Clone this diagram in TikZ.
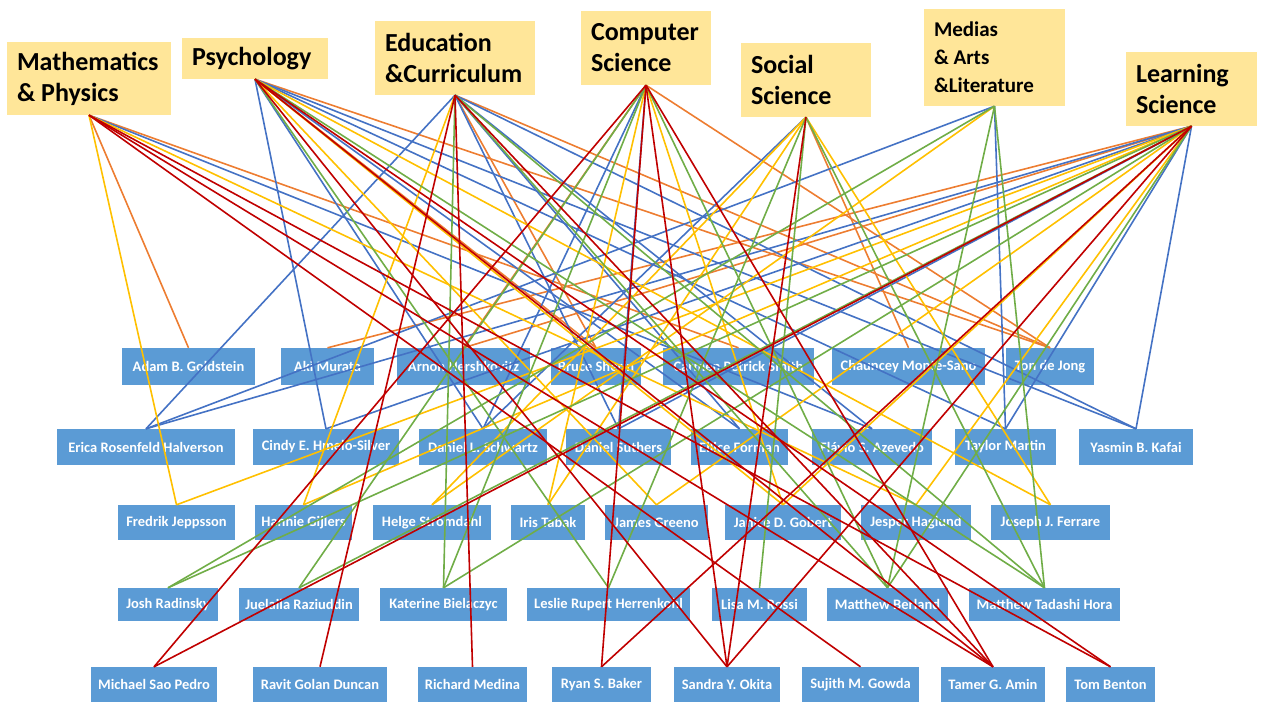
\documentclass[tikz,border=0pt]{standalone}
\usepackage{fontspec}
\setmainfont{Carlito}
\definecolor{catfill}{HTML}{FFE699}
\definecolor{boxfill}{HTML}{5B9BD5}
\definecolor{lnorange}{HTML}{ED7D31}
\definecolor{lnblue}{HTML}{4472C4}
\definecolor{lnyellow}{HTML}{FFC000}
\definecolor{lngreen}{HTML}{70AD47}
\definecolor{lnred}{HTML}{C00000}
\tikzset{
  catbox/.style={fill=catfill, inner sep=0pt},
  cattext/.style={inner sep=0pt, align=left, anchor=west, text=black,
    font=\bfseries\fontsize{26}{31}\selectfont},
  smallcat/.style={font=\bfseries\fontsize{21}{28}\selectfont},
  personbox/.style={fill=boxfill, inner sep=0pt, text=white,
    font=\bfseries\fontsize{14.5}{17}\selectfont},
  linkO/.style={draw=lnorange, line width=1.6pt},
  linkB/.style={draw=lnblue, line width=1.6pt},
  linkY/.style={draw=lnyellow, line width=1.6pt},
  linkG/.style={draw=lngreen, line width=1.6pt},
  linkR/.style={draw=lnred, line width=1.6pt},
}
\newcommand\CatBox[7][]{%
  \node[catbox, minimum width={(#5-#3)*1pt}, minimum height={(#6-#4)*1pt}]
    (#2) at ({(#3+#5)/2},{(#4+#6)/2}) {};
  \node[cattext, #1] (#2-t) at ([xshift=10pt]#2.west) {#7};}
\newcommand\PersonBox[6]{%
  \node[personbox, minimum width={(#4-#2)*1pt}, minimum height={(#5-#3)*1pt}]
    (#1) at ({(#2+#4)/2},{(#3+#5)/2}) {#6};}
\begin{document}
\begin{tikzpicture}[x=1pt, y=-1pt]
\useasboundingbox (0,0) rectangle (1269,712);
% categories
\CatBox{math}{7}{42}{171}{115}{Mathematics\\\& Physics}
\CatBox{psy}{182}{38}{328}{79}{Psychology}
\CatBox{edu}{375}{21}{535}{95}{Education\\\&Curriculum}
\CatBox{comp}{581}{11}{711}{85}{Computer\\Science}
\CatBox{soc}{741}{43}{871}{117}{Social\\Science}
\CatBox[smallcat]{med}{924}{9}{1065}{106}{Medias\\\& Arts\\\&Literature}
\CatBox{lrn}{1126}{52}{1257}{126}{Learning\\Science}
% row 1
\PersonBox{adam}{122}{348}{255}{385}{Adam B. Goldstein}
\PersonBox{aki}{281}{348}{374}{385}{Aki Murata}
\PersonBox{arnon}{397}{348}{530}{385}{Arnon Hershkovitz}
\PersonBox{bruce}{551}{348}{641}{385}{Bruce Sherin}
\PersonBox{carmen}{663}{348}{814}{385}{Carmen Petrick Smith}
\PersonBox{chauncey}{832}{348}{985}{385}{Chauncey Monte-Sano}
\PersonBox{ton}{1006}{348}{1094}{385}{Ton de Jong}
% row 2
\PersonBox{erica}{57}{429}{235}{465}{Erica Rosenfeld Halverson}
\PersonBox{cindy}{253}{429}{399}{465}{Cindy E. Hmelo-Silver}
\PersonBox{dans}{419}{429}{547}{465}{Daniel L. Schwartz}
\PersonBox{suthers}{566}{429}{671}{465}{Daniel Suthers}
\PersonBox{ellice}{691}{429}{788}{465}{Ellice Forman}
\PersonBox{flavio}{812}{429}{932}{465}{Flávio S. Azevedo}
\PersonBox{taylor}{955}{429}{1056}{465}{Taylor Martin}
\PersonBox{yasmin}{1079}{429}{1193}{465}{Yasmin B. Kafai}
% row 3
\PersonBox{fredrik}{118}{505}{235}{540}{Fredrik Jeppsson}
\PersonBox{hannie}{255}{505}{352}{540}{Hannie Gijlers}
\PersonBox{helge}{373}{505}{491}{540}{Helge Strömdahl}
\PersonBox{iris}{511}{505}{585}{540}{Iris Tabak}
\PersonBox{james}{605}{505}{708}{540}{James Greeno}
\PersonBox{janice}{725}{505}{841}{540}{Janice D. Gobert}
\PersonBox{jesper}{861}{505}{971}{540}{Jesper Haglund}
\PersonBox{joseph}{991}{505}{1110}{540}{Joseph J. Ferrare}
% row 4
\PersonBox{josh}{118}{588}{218}{621}{Josh Radinsky}
\PersonBox{juelaila}{239}{588}{359}{621}{Juelaila Raziuddin}
\PersonBox{katerine}{380}{588}{507}{621}{Katerine Bielaczyc}
\PersonBox{leslie}{527}{588}{690}{621}{Leslie Rupert Herrenkohl}
\PersonBox{lisa}{712}{588}{807}{621}{Lisa M. Rossi}
\PersonBox{mberland}{827}{588}{948}{621}{Matthew Berland}
\PersonBox{mhora}{969}{588}{1120}{621}{Matthew Tadashi Hora}
% row 5
\PersonBox{michael}{91}{667}{217}{702}{Michael Sao Pedro}
\PersonBox{ravit}{253}{667}{387}{702}{Ravit Golan Duncan}
\PersonBox{richard}{418}{667}{527}{702}{Richard Medina}
\PersonBox{ryan}{552}{667}{651}{702}{Ryan S. Baker}
\PersonBox{sandra}{674}{667}{780}{702}{Sandra Y. Okita}
\PersonBox{sujith}{802}{667}{919}{702}{Sujith M. Gowda}
\PersonBox{tamer}{941}{667}{1045}{702}{Tamer G. Amin}
\PersonBox{tom}{1066}{667}{1155}{702}{Tom Benton}
% connectors
\foreach \a/\b in {math/adam, lrn/aki, comp/arnon, lrn/arnon, psy/bruce, edu/bruce,
  math/carmen, soc/chauncey, psy/ton, edu/ton, comp/ton}
  \draw[linkO] (\a.south) -- (\b.north);
\foreach \a/\b in {edu/erica, med/erica, lrn/erica, psy/cindy, lrn/cindy, psy/dans,
  comp/dans, soc/dans, comp/suthers, edu/suthers, lrn/suthers, psy/ellice, edu/ellice,
  math/flavio, edu/flavio, psy/taylor, med/taylor, lrn/taylor, psy/yasmin, edu/yasmin,
  lrn/yasmin}
  \draw[linkB] (\a.south) -- (\b.north);
\foreach \a/\b in {math/fredrik, lrn/fredrik, edu/hannie, lrn/hannie, soc/helge,
  med/helge, comp/iris, soc/iris, psy/james, lrn/james, psy/janice, comp/janice,
  lrn/janice, math/jesper, lrn/jesper, psy/joseph, soc/joseph}
  \draw[linkY] (\a.south) -- (\b.north);
\foreach \a/\b in {med/josh, lrn/josh, comp/juelaila, lrn/juelaila, edu/katerine,
  comp/katerine, lrn/katerine, psy/leslie, soc/leslie, soc/lisa, edu/mberland,
  comp/mberland, med/mberland, lrn/mberland, psy/mhora, edu/mhora, soc/mhora, med/mhora}
  \draw[linkG] (\a.south) -- (\b.north);
\foreach \a/\b in {comp/michael, lrn/michael, edu/ravit, edu/richard, comp/ryan,
  lrn/ryan, psy/sandra, comp/sandra, soc/sandra, lrn/sandra, math/sujith, math/tamer,
  psy/tamer, edu/tamer, comp/tamer, math/tom, psy/tom}
  \draw[linkR] (\a.south) -- (\b.north);
\end{tikzpicture}
\end{document}
